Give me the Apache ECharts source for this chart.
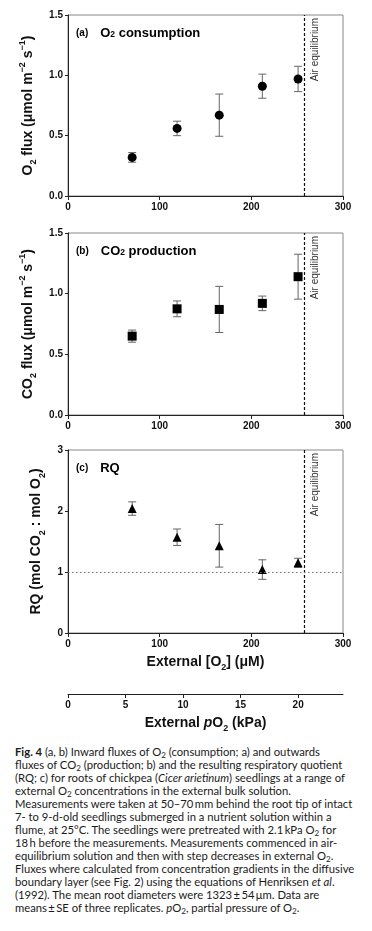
<!DOCTYPE html>
<html>
<head>
<meta charset="utf-8">
<script src="https://cdn.jsdelivr.net/npm/echarts@6/dist/echarts.min.js"></script>
<style>
  html, body { margin: 0; padding: 0; background: #fff; }
  #wrap { position: relative; width: 372px; height: 931px; overflow: hidden; }
  #chart { position: absolute; left: 0; top: 0; width: 372px; height: 740px; }
  #caption { position: absolute; left: 15px; top: 745px; width: 357px; font-family: 'Lato', sans-serif;
    font-size: 11.25px; line-height: 13px; color: #1a1a1a; white-space: nowrap; }
  #caption sub { font-size: 0.72em; vertical-align: -0.25em; line-height: 0; }
</style>
</head>
<body>
<div id="wrap">
  <div id="chart"></div>
  <div id="caption">
    <b>Fig. 4</b> (a, b) Inward fluxes of O<sub>2</sub> (consumption; a) and outwards<br>
    fluxes of CO<sub>2</sub> (production; b) and the resulting respiratory quotient<br>
    (RQ; c) for roots of chickpea (<i>Cicer arietinum</i>) seedlings at a range of<br>
    external O<sub>2</sub> concentrations in the external bulk solution.<br>
    Measurements were taken at 50–70&#8201;mm behind the root tip of intact<br>
    7- to 9-d-old seedlings submerged in a nutrient solution within a<br>
    flume, at 25°C. The seedlings were pretreated with 2.1&#8201;kPa O<sub>2</sub> for<br>
    18&#8201;h before the measurements. Measurements commenced in air-<br>
    equilibrium solution and then with step decreases in external O<sub>2</sub>.<br>
    Fluxes where calculated from concentration gradients in the diffusive<br>
    boundary layer (see Fig. 2) using the equations of Henriksen <i>et al</i>.<br>
    (1992). The mean root diameters were 1323&#8201;±&#8201;54&#8201;μm. Data are<br>
    means&#8201;±&#8201;SE of three replicates. <i>p</i>O<sub>2</sub>, partial pressure of O<sub>2</sub>.
  </div>
</div>
<script>
// ---------- data ----------
const o2Conc = [70, 119, 165, 212, 251];          // external [O2] (µM)
const o2Flux = [0.32, 0.56, 0.67, 0.91, 0.97];     // panel a
const o2FluxSE = [0.04, 0.06, 0.175, 0.10, 0.105];
const co2Flux = [0.65, 0.875, 0.87, 0.92, 1.14];   // panel b
const co2FluxSE = [0.05, 0.065, 0.19, 0.06, 0.185];
const rq = [2.04, 1.57, 1.43, 1.04, 1.15];         // panel c
const rqSE = [0.11, 0.135, 0.35, 0.16, 0.075];
const airEquilibrium = 258;                        // µM
const rqReference = 1;
const concTicks = [0, 100, 200, 300];
const pO2Ticks = [0, 5, 10, 15, 20];
const pO2Max = 23.9;                               // kPa equivalent of 300 µM

// ---------- style ----------
const FONT = 'Liberation Sans';
const AX = '#222';
const grids = [
  { left: 68, top: 15, width: 275, height: 181 },
  { left: 68, top: 233, width: 275, height: 182 },
  { left: 68, top: 450, width: 275, height: 183 },
  { left: 68, top: 693, width: 275, height: 1 }
];

const nameRich = {
  b: { fontFamily: FONT, fontWeight: 'bold', fontSize: 14, color: '#111', lineHeight: 20 },
  bi: { fontFamily: FONT, fontWeight: 'bold', fontStyle: 'italic', fontSize: 14, color: '#111', lineHeight: 20 },
  s: { fontFamily: FONT, fontWeight: 'bold', fontSize: 9, color: '#111', verticalAlign: 'bottom', lineHeight: 12 },
  p: { fontFamily: FONT, fontWeight: 'bold', fontSize: 9, color: '#111', verticalAlign: 'top', lineHeight: 11 }
};

function xAx(gi, showName) {
  return {
    type: 'value', gridIndex: gi, min: 0, max: 300, interval: 100,
    axisLine: { show: true, onZero: false, lineStyle: { color: AX, width: 1 } },
    axisTick: { show: true, inside: false, length: 4, lineStyle: { color: AX } },
    axisLabel: { fontFamily: FONT, fontWeight: 'bold', fontSize: 10, color: '#111', margin: 6,
      customValues: concTicks },
    splitLine: { show: false },
    name: showName ? '{b|External [O}{s|2}{b|] (μM)}' : '',
    nameLocation: 'middle', nameGap: 19,
    nameTextStyle: { rich: nameRich }
  };
}
function yAx(gi, max, interval, dec, name, gap) {
  return {
    type: 'value', gridIndex: gi, min: 0, max: max, interval: interval,
    axisLine: { show: true, onZero: false, lineStyle: { color: AX, width: 1 } },
    axisTick: { show: true, inside: false, length: 3, lineStyle: { color: AX } },
    axisLabel: { fontFamily: FONT, fontWeight: 'bold', fontSize: 10, color: '#111', margin: 5,
      formatter: v => v.toFixed(dec) },
    splitLine: { show: false },
    name: name, nameLocation: 'middle', nameGap: gap, nameRotate: 90,
    nameTextStyle: { rich: nameRich }
  };
}

function errRender(params, api) {
  const x = api.value(0), y = api.value(1), e = api.value(2);
  const t = api.coord([x, y + e]);
  const b = api.coord([x, y - e]);
  const w = 4;
  const st = { stroke: '#666', lineWidth: 1 };
  return { type: 'group', children: [
    { type: 'line', shape: { x1: t[0], y1: t[1], x2: b[0], y2: b[1] }, style: st },
    { type: 'line', shape: { x1: t[0] - w, y1: t[1], x2: t[0] + w, y2: t[1] }, style: st },
    { type: 'line', shape: { x1: b[0] - w, y1: b[1], x2: b[0] + w, y2: b[1] }, style: st }
  ]};
}

function vLine() {
  return {
    silent: true, symbol: 'none', label: { show: false },
    lineStyle: { color: '#111', type: [3, 2], width: 1.2, opacity: 1 },
    data: [{ xAxis: airEquilibrium }]
  };
}

function panelSeries(gi, ys, se, symbol, withRef) {
  const pts = o2Conc.map((x, i) => [x, ys[i]]);
  const errs = o2Conc.map((x, i) => [x, ys[i], se[i]]);
  const out = [
    { type: 'custom', xAxisIndex: gi, yAxisIndex: gi, renderItem: errRender, data: errs, z: 2, silent: true },
    { type: 'scatter', xAxisIndex: gi, yAxisIndex: gi, data: pts, symbol: symbol, symbolSize: 9,
      itemStyle: { color: '#000', opacity: 1 }, z: 3, markLine: vLine(), silent: true }
  ];
  if (withRef) {
    out.push({ type: 'line', xAxisIndex: gi, yAxisIndex: gi, data: [], silent: true,
      markLine: { silent: true, symbol: 'none', label: { show: false },
        lineStyle: { color: '#777', type: [1.5, 2.5], width: 1.2, opacity: 1 },
        data: [{ yAxis: rqReference }] } });
  }
  return out;
}

const chart = echarts.init(document.getElementById('chart'), null, { renderer: 'canvas' });
const option = {
  animation: false,
  backgroundColor: '#fff',
  grid: grids.map((g, i) => Object.assign({ show: i < 3, borderColor: '#888', borderWidth: 1, backgroundColor: 'transparent' }, g)),
  xAxis: [
    xAx(0, false), xAx(1, false), xAx(2, true),
    {
      type: 'value', gridIndex: 3, min: 0, max: pO2Max, interval: 5,
      axisLine: { show: true, onZero: false, lineStyle: { color: AX, width: 1 } },
      axisTick: { show: true, length: 4, lineStyle: { color: AX }, customValues: pO2Ticks },
      axisLabel: { fontFamily: FONT, fontWeight: 'bold', fontSize: 10, color: '#111', margin: 6, customValues: pO2Ticks },
      splitLine: { show: false },
      name: '{b|External }{bi|p}{b|O}{s|2}{b| (kPa)}', nameLocation: 'middle', nameGap: 19,
      nameTextStyle: { rich: nameRich }
    }
  ],
  yAxis: [
    yAx(0, 1.5, 0.5, 1, '{b|O}{s|2}{b| flux (μmol m}{p|−2}{b| s}{p|−1}{b|)}', 27),
    yAx(1, 1.5, 0.5, 1, '{b|CO}{s|2}{b| flux (μmol m}{p|−2}{b| s}{p|−1}{b|)}', 27),
    yAx(2, 3, 1, 0, '{b|RQ (mol CO}{s|2}{b| : mol O}{s|2}{b|)}', 21),
    { type: 'value', gridIndex: 3, show: false, min: 0, max: 1 }
  ],
  series: [].concat(
    panelSeries(0, o2Flux, o2FluxSE, 'circle', false),
    panelSeries(1, co2Flux, co2FluxSE, 'rect', false),
    panelSeries(2, rq, rqSE, 'triangle', true)
  )
};
chart.setOption(option);

// panel titles and "Air equilibrium" labels
const titleRich = {
  t: { fontFamily: FONT, fontWeight: 'bold', fontSize: 10, color: '#111' },
  h: { fontFamily: FONT, fontWeight: 'bold', fontSize: 13, color: '#111' },
  hs: { fontFamily: FONT, fontWeight: 'bold', fontSize: 8.5, color: '#111', verticalAlign: 'bottom', lineHeight: 10 },
  sp: { fontSize: 12, width: 12 }
};
const titles = [
  '{t|(a)}{sp|}{h|O}{hs|2}{h| consumption}',
  '{t|(b)}{sp|}{h|CO}{hs|2}{h| production}',
  '{t|(c)}{sp|}{h|RQ}'
];
const graphics = [];
for (let i = 0; i < 3; i++) {
  const g = grids[i];
  const xEq = chart.convertToPixel({ xAxisIndex: i }, airEquilibrium);
  graphics.push({
    type: 'text', x: g.left + 8, y: g.top + 18,
    style: { text: titles[i], rich: titleRich, verticalAlign: 'middle', align: 'left' }
  });
  graphics.push({
    type: 'text', x: xEq + 11, y: g.top + 3, rotation: Math.PI / 2,
    style: { text: 'Air equilibrium', fontFamily: FONT, fontSize: 10, fill: '#333',
      align: 'right', verticalAlign: 'middle' }
  });
}
chart.setOption({ graphic: graphics });
</script>
</body>
</html>
